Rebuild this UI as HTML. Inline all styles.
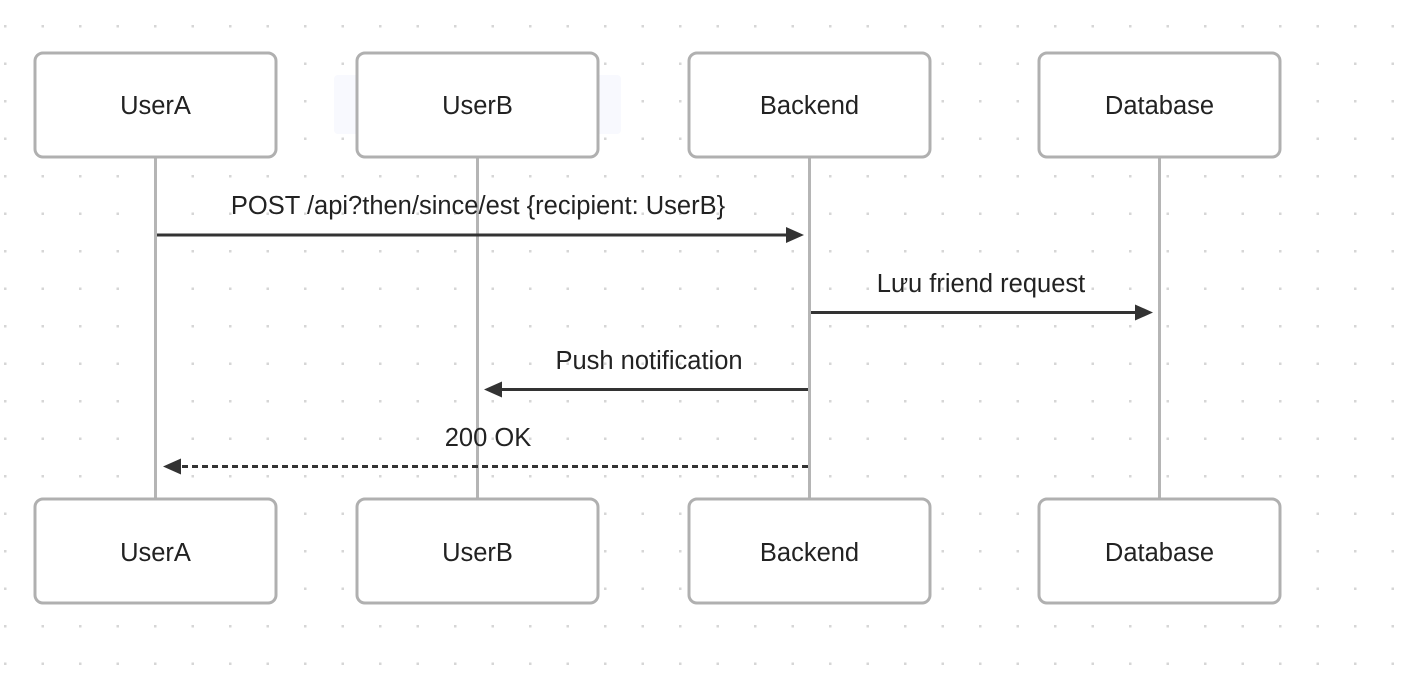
<!DOCTYPE html>
<html><head><meta charset="utf-8"><style>
html,body{margin:0;padding:0;background:#fff;}
svg{display:block;}
text{font-family:"Liberation Sans",Arial,sans-serif;font-size:25.5px;fill:#222;}
</style></head><body>
<svg width="1403" height="674" viewBox="0 0 1403 674" xmlns="http://www.w3.org/2000/svg">
<defs>
<pattern id="dots" x="4" y="25" width="37.5" height="37.5" patternUnits="userSpaceOnUse">
<rect x="0" y="0" width="2.5" height="2.5" fill="#d6d6d6"/>
</pattern>
</defs>
<rect width="1403" height="674" fill="#fff"/>
<rect width="1403" height="674" fill="url(#dots)"/>
<rect x="334" y="75" width="287" height="59" rx="4" fill="#f8f9fe"/>
<g stroke="#b5b5b5" stroke-width="3">
<line x1="155.5" y1="157" x2="155.5" y2="499"/>
<line x1="477.5" y1="157" x2="477.5" y2="499"/>
<line x1="809.5" y1="157" x2="809.5" y2="499"/>
<line x1="1159.5" y1="157" x2="1159.5" y2="499"/>
</g>
<g fill="#fff" stroke="#b0b0b0" stroke-width="3">
<rect x="35" y="53" width="241" height="104" rx="8"/>
<rect x="357" y="53" width="241" height="104" rx="8"/>
<rect x="689" y="53" width="241" height="104" rx="8"/>
<rect x="1039" y="53" width="241" height="104" rx="8"/>
<rect x="35" y="499" width="241" height="104" rx="8"/>
<rect x="357" y="499" width="241" height="104" rx="8"/>
<rect x="689" y="499" width="241" height="104" rx="8"/>
<rect x="1039" y="499" width="241" height="104" rx="8"/>
</g>
<g text-anchor="middle">
<text x="155.5" y="114">UserA</text>
<text x="477.5" y="114">UserB</text>
<text x="809.5" y="114">Backend</text>
<text x="1159.5" y="114">Database</text>
<text x="155.5" y="561">UserA</text>
<text x="477.5" y="561">UserB</text>
<text x="809.5" y="561">Backend</text>
<text x="1159.5" y="561">Database</text>
<text x="478" y="214">POST /api?then/since/est {recipient: UserB}</text>
<text x="981" y="292">Lưu friend request</text>
<text x="649" y="369">Push notification</text>
<text x="488" y="446">200 OK</text>
</g>
<g stroke="#333" stroke-width="3">
<line x1="157" y1="235" x2="788" y2="235"/>
<line x1="811" y1="312.5" x2="1137" y2="312.5"/>
<line x1="808" y1="389.5" x2="500" y2="389.5"/>
<line x1="808" y1="466.5" x2="180" y2="466.5" stroke-dasharray="6,4"/>
</g>
<g fill="#333">
<polygon points="786,227 804,235 786,243"/>
<polygon points="1135,304.5 1153,312.5 1135,320.5"/>
<polygon points="502,381.5 484,389.5 502,397.5"/>
<polygon points="181,458.5 163,466.5 181,474.5"/>
</g>
</svg>
</body></html>
